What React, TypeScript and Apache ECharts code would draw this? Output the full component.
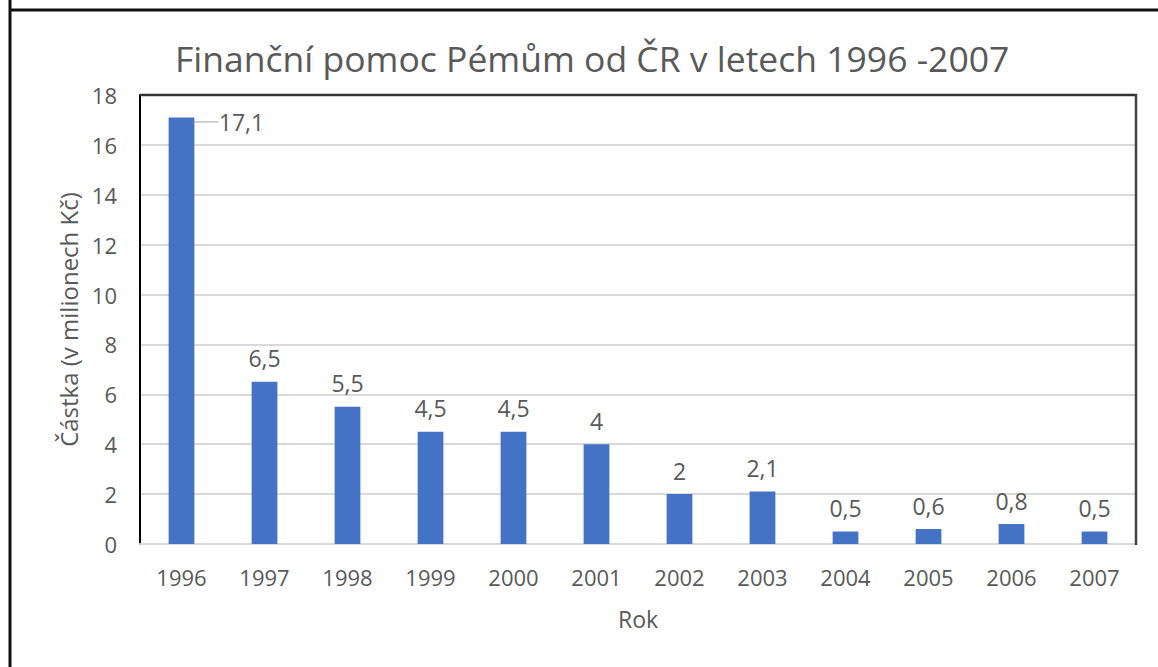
import React, { useEffect, useRef } from "react";
import * as echarts from "echarts";

const titleText = "Finanční pomoc Pémům od ČR v letech 1996 -2007";
const years = ["1996", "1997", "1998", "1999", "2000", "2001", "2002", "2003", "2004", "2005", "2006", "2007"];
const amounts = [17.1, 6.5, 5.5, 4.5, 4.5, 4, 2, 2.1, 0.5, 0.6, 0.8, 0.5];
const yAxisName = "Částka (v milionech Kč)";
const xAxisName = "Rok";

const FONT = "Open Sans";
const GRAY = "#595959";

export default function App() {
  const ref = useRef<HTMLDivElement>(null);
  useEffect(() => {
    const chart = echarts.init(ref.current!, undefined, { renderer: "svg" });
    const fmt = (v: number) => String(v).replace(".", ",");
    chart.setOption({
      animation: false,
      backgroundColor: "#ffffff",
      textStyle: { fontFamily: FONT },
      title: {
        text: titleText,
        left: 170,
        top: 35,
        textStyle: { fontFamily: FONT, fontSize: 35.5, fontWeight: "normal", color: GRAY },
      },
      grid: { left: 140, top: 95, right: 22, bottom: 123, containLabel: false },
      xAxis: {
        type: "category",
        data: years,
        name: xAxisName,
        nameLocation: "middle",
        nameGap: 63,
        nameTextStyle: { fontFamily: FONT, fontSize: 23, color: GRAY },
        axisLine: { show: true, lineStyle: { color: "#d9d9d9", width: 2 } },
        axisTick: { show: false },
        axisLabel: { margin: 22, fontFamily: FONT, fontSize: 22, color: GRAY },
      },
      yAxis: {
        type: "value",
        min: 0,
        max: 18,
        interval: 2,
        name: yAxisName,
        nameLocation: "middle",
        nameGap: 56,
        nameTextStyle: { fontFamily: FONT, fontSize: 24, color: GRAY },
        axisLine: { show: true, lineStyle: { color: "#000000", width: 2 } },
        axisTick: { show: false },
        axisLabel: { margin: 23, fontFamily: FONT, fontSize: 22, color: GRAY },
        splitLine: { show: true, lineStyle: { color: "#d9d9d9", width: 2 } },
      },
      graphic: [
        { type: "line", shape: { x1: 10, y1: 0, x2: 10, y2: 667 }, style: { stroke: "#111", lineWidth: 3 } },
        { type: "line", shape: { x1: 9, y1: 10, x2: 1158, y2: 10 }, style: { stroke: "#111", lineWidth: 3 } },
        { type: "line", shape: { x1: 140, y1: 95, x2: 1137, y2: 95 }, style: { stroke: "#333", lineWidth: 2.5 }, z: 10 },
        { type: "line", shape: { x1: 1136, y1: 94, x2: 1136, y2: 545 }, style: { stroke: "#404040", lineWidth: 2.5 }, z: 10 },
      ],
      series: [
        {
          type: "bar",
          data: amounts.map((v, i) =>
            i === 0 ? { value: v, labelLine: { show: true, lineStyle: { color: "#a6a6a6", width: 1 } } } : { value: v }
          ),
          barWidth: "31%",
          itemStyle: { color: "#4472c4" },
          label: {
            show: true,
            position: "top",
            distance: 12,
            fontFamily: FONT,
            fontSize: 23,
            color: GRAY,
            formatter: (p: any) => fmt(p.value),
          },
          labelLayout: (p: any) => (p.dataIndex === 0 ? { dx: 60, dy: 28 } : {}),
        },
      ],
    });
    return () => chart.dispose();
  }, []);
  return <div ref={ref} style={{ position: "absolute", left: 0, top: 0, width: 1158, height: 667 }} />;
}
